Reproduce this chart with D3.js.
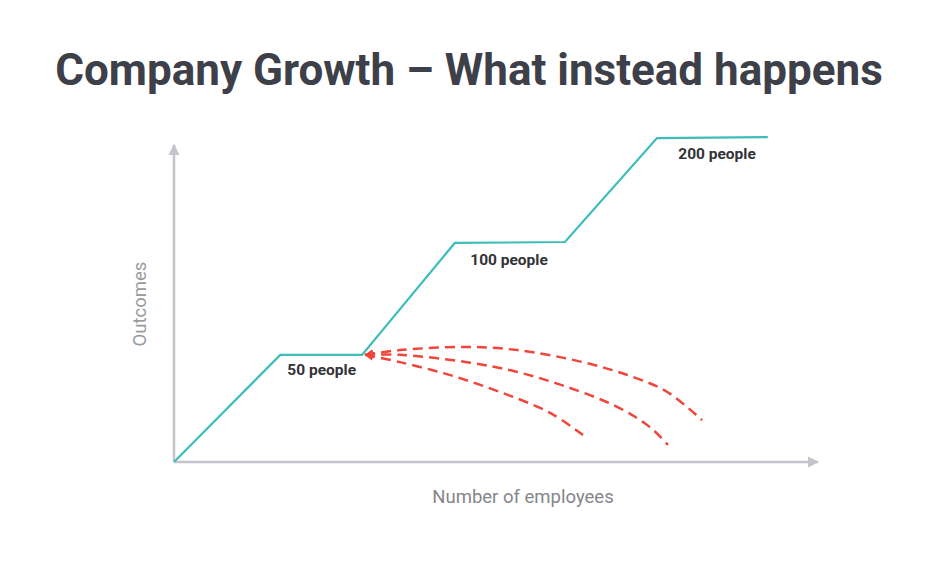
<!DOCTYPE html>
<html>
<head>
<meta charset="utf-8">
<script src="https://cdn.jsdelivr.net/npm/d3@7"></script>
<style>
  body { margin: 0; background: #ffffff; }
  text { font-family: Roboto, "Noto Sans", sans-serif; }
</style>
</head>
<body>
<svg id="chart" width="946" height="564"></svg>
<script>
// growth path (x = employees, y = outcomes, arbitrary units)
var growthX = [0, 16.5, 29.2, 43.6, 60.7, 75, 92.2];
var growthY = [0, 33.8, 33.8, 69.1, 69.4, 102.2, 102.5];

// plateau labels
var labelText = ["50 people", "100 people", "200 people"];
var labelX = [17.6, 46.0, 78.3];
var labelY = [27.6, 62.0, 95.5];

// dashed "what instead happens" curves
var curveTopX = [29.7, 35.1, 45.5, 53.3, 63.5, 71.3, 76.6, 82.0];
var curveTopY = [33.8, 35.3, 36.3, 35.3, 31.5, 26.8, 22.1, 13.2];
var curveMidX = [29.7, 35.1, 45.5, 53.3, 61.0, 68.8, 73.9, 76.7];
var curveMidY = [33.8, 33.8, 31.5, 28.4, 23.7, 17.4, 11.0, 5.4];
var curveLowX = [29.7, 35.1, 42.9, 50.6, 58.4, 64.1];
var curveLowY = [33.8, 31.5, 27.4, 22.1, 15.5, 7.6];

var svg = d3.select("#chart");

var x = d3.scaleLinear().domain([0, 100]).range([174, 818]);
var y = d3.scaleLinear().domain([0, 100]).range([462, 145]);

var defs = svg.append("defs");
defs.append("marker")
    .attr("id", "axisArrow")
    .attr("viewBox", "0 0 10 10")
    .attr("refX", 9).attr("refY", 5)
    .attr("markerWidth", 4.5).attr("markerHeight", 4.5)
    .attr("markerUnits", "strokeWidth")
    .attr("orient", "auto")
  .append("path")
    .attr("d", "M0,0L10,5L0,10Z")
    .attr("fill", "#c4c4cc");
defs.append("marker")
    .attr("id", "redArrow")
    .attr("viewBox", "0 0 10 10")
    .attr("refX", 9).attr("refY", 5)
    .attr("markerWidth", 3.5).attr("markerHeight", 3.5)
    .attr("markerUnits", "strokeWidth")
    .attr("orient", "auto-start-reverse")
  .append("path")
    .attr("d", "M0,0L10,5L0,10Z")
    .attr("fill", "#f0453a");

// title
svg.append("text")
    .attr("x", 469)
    .attr("y", 85)
    .attr("text-anchor", "middle")
    .attr("font-size", 44)
    .attr("font-weight", 700)
    .attr("fill", "#3d4049")
    .text("Company Growth \u2013 What instead happens");

// axes
svg.append("line")
    .attr("x1", x(0)).attr("y1", y(0))
    .attr("x2", x(0)).attr("y2", y(100))
    .attr("stroke", "#c4c4cc").attr("stroke-width", 2.5)
    .attr("marker-end", "url(#axisArrow)");
svg.append("line")
    .attr("x1", x(0)).attr("y1", y(0))
    .attr("x2", x(100)).attr("y2", y(0))
    .attr("stroke", "#c4c4cc").attr("stroke-width", 2.5)
    .attr("marker-end", "url(#axisArrow)");

svg.append("text")
    .attr("transform", "translate(146,304) rotate(-90)")
    .attr("text-anchor", "middle")
    .attr("font-size", 18.5)
    .attr("fill", "#9a9aa0")
    .text("Outcomes");

svg.append("text")
    .attr("x", 523)
    .attr("y", 503)
    .attr("text-anchor", "middle")
    .attr("font-size", 18.5)
    .attr("fill", "#85858c")
    .text("Number of employees");

// growth line
var line = d3.line()
    .x(function (d) { return x(d[0]); })
    .y(function (d) { return y(d[1]); });

svg.append("path")
    .datum(d3.zip(growthX, growthY))
    .attr("d", line)
    .attr("fill", "none")
    .attr("stroke", "#3dbdba")
    .attr("stroke-width", 2.2);

// dashed curves
var curveLine = d3.line()
    .x(function (d) { return x(d[0]); })
    .y(function (d) { return y(d[1]); })
    .curve(d3.curveCatmullRom);

var curves = [
    d3.zip(curveTopX, curveTopY),
    d3.zip(curveMidX, curveMidY),
    d3.zip(curveLowX, curveLowY)
];

svg.selectAll(".drop")
    .data(curves)
    .enter().append("path")
    .attr("class", "drop")
    .attr("d", curveLine)
    .attr("fill", "none")
    .attr("stroke", "#f0453a")
    .attr("stroke-width", 2.5)
    .attr("stroke-dasharray", "10,6")
    .attr("marker-start", "url(#redArrow)");

// plateau labels
svg.selectAll(".plateau")
    .data(labelText)
    .enter().append("text")
    .attr("class", "plateau")
    .attr("x", function (d, i) { return x(labelX[i]); })
    .attr("y", function (d, i) { return y(labelY[i]); })
    .attr("font-size", 15.5)
    .attr("font-weight", 700)
    .attr("fill", "#333338")
    .text(function (d) { return d; });
</script>
</body>
</html>
